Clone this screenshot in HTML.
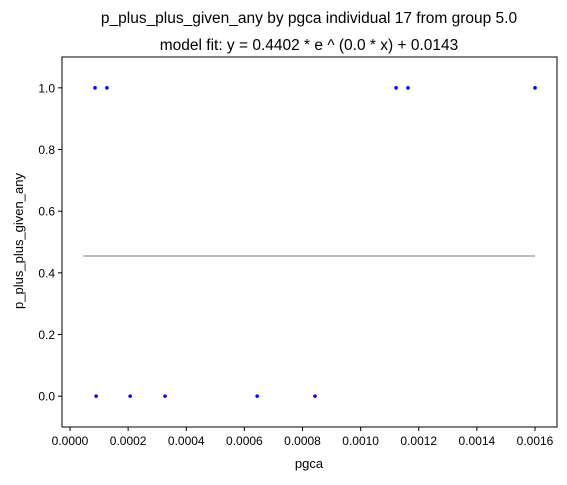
<!DOCTYPE html>
<html><head><meta charset="utf-8"><style>
body{margin:0;background:#fff;}
svg text{font-family:"Liberation Sans","DejaVu Sans",sans-serif;fill:#000;}
</style></head><body>
<svg id="chart" width="567" height="480" xmlns="http://www.w3.org/2000/svg">
<text x="309" y="23" font-size="15.5" text-anchor="middle">p_plus_plus_given_any by pgca individual 17 from group 5.0</text>
<text x="309" y="50" font-size="15.5" text-anchor="middle">model fit: y = 0.4402 * e ^ (0.0 * x) + 0.0143</text>
<text x="309" y="468" font-size="13" text-anchor="middle">pgca</text>
<text transform="translate(23,241) rotate(-90)" font-size="13" text-anchor="middle">p_plus_plus_given_any</text>
<g id="plot"></g>
</svg>
<script>
const xTicks=[0,0.0002,0.0004,0.0006,0.0008,0.0010,0.0012,0.0014,0.0016];
const yTicks=[0,0.2,0.4,0.6,0.8,1.0];
const pointsX=[0.000086,0.000127,0.001122,0.001163,0.0016,0.00009,0.000207,0.000327,0.000644,0.000843];
const pointsY=[1,1,1,1,1,0,0,0,0,0];
const fitXRange=[0.000045,0.0016];
const fitA=0.4402, fitB=0.0, fitC=0.0143;

const L=62,R=557,T=57,B=427;
const sx=v=>70+(v/0.0016)*465;
const sy=v=>B-(v+0.1)/1.2*(B-T);
const ns="http://www.w3.org/2000/svg";
const g=document.getElementById('plot');
function mk(tag,attrs){const e=document.createElementNS(ns,tag);for(const k in attrs)e.setAttribute(k,attrs[k]);g.appendChild(e);return e;}

const y1=sy(fitA*Math.exp(fitB*fitXRange[0])+fitC), y2=sy(fitA*Math.exp(fitB*fitXRange[1])+fitC);
const fl=mk('line',{x1:sx(fitXRange[0]),x2:sx(fitXRange[1]),y1:y1,y2:y2,stroke:'#aaaaaa','stroke-width':1.5});



pointsX.forEach((x,i)=>{
  const c=mk('circle',{cx:sx(x),cy:sy(pointsY[i]),r:1.8,fill:'#0000ff'});
  
  
});

const fr=mk('rect',{x:L,y:T,width:R-L,height:B-T,fill:'none',stroke:'#000','stroke-width':1});



xTicks.forEach(v=>{
  const x=sx(v);
  const t=mk('line',{x1:x,x2:x,y1:B,y2:B+4,stroke:'#000'});
  
  
  const l=mk('text',{x:x,y:B+18,'font-size':12,'text-anchor':'middle'});
  l.textContent=v.toFixed(4);
  
  
});
yTicks.forEach(v=>{
  const y=sy(v);
  const t=mk('line',{x1:L-4,x2:L,y1:y,y2:y,stroke:'#000'});
  
  
  const l=mk('text',{x:L-7,y:y+4.5,'font-size':12,'text-anchor':'end'});
  l.textContent=v.toFixed(1);
  
  
});
</script>
</body></html>
